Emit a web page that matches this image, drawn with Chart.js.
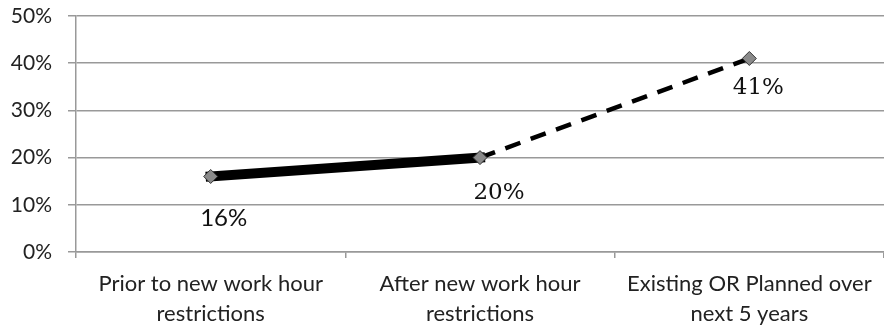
<!DOCTYPE html>
<html>
<head>
<meta charset="utf-8">
<script src="https://cdn.jsdelivr.net/npm/chart.js@4"></script>
<style>
  html, body { margin: 0; padding: 0; background: #fff; overflow: hidden; }
  #wrap { width: 892px; height: 326px; }
</style>
</head>
<body>
<div id="wrap"><canvas id="c" width="892" height="326"></canvas></div>
<script>
// Share of programs, by period
const categories = [
  ["Prior to new work hour", "restrictions"],
  ["After new work hour", "restrictions"],
  ["Existing OR Planned over", "next 5 years"]
];
const observed = [16, 20, null];   // solid segment
const projected = [null, 20, 41];  // dashed segment
const pointLabels = ["16%", "20%", "41%"];
const yTicks = [0, 10, 20, 30, 40, 50];

// Value labels placed under / beside each point
const labelPlugin = {
  id: "valueLabels",
  afterDatasetsDraw(chart) {
    const { ctx, scales } = chart;
    const offsets = [[13, 42], [19, 35], [9, 30]];
    const fonts = ["24px Lato", "23px 'DejaVu Serif', serif", "23px 'DejaVu Serif', serif"];
    ctx.save();
    ctx.fillStyle = "#111";
    ctx.textAlign = "center";
    ctx.textBaseline = "middle";
    const values = [observed[0], observed[1], projected[2]];
    values.forEach((v, i) => {
      const x = scales.x.getPixelForValue(i) + offsets[i][0];
      const y = scales.y.getPixelForValue(v) + offsets[i][1];
      ctx.font = fonts[i];
      ctx.fillText(pointLabels[i], x, y);
    });
    ctx.restore();
  }
};

new Chart(document.getElementById("c"), {
  type: "line",
  data: {
    labels: categories,
    datasets: [
      {
        data: observed,
        borderColor: "#000",
        borderWidth: 10,
        borderCapStyle: "square",
        pointStyle: "rectRot",
        pointRadius: [7, 0, 0],
        pointBackgroundColor: "#8a8a8a",
        pointBorderColor: "#333",
        pointBorderWidth: 1,
        order: 2
      },
      {
        data: projected,
        borderColor: "#000",
        borderWidth: 4.5,
        borderDash: [16, 11],
        pointStyle: "rectRot",
        pointRadius: [0, 7, 7],
        pointBackgroundColor: "#8a8a8a",
        pointBorderColor: "#333",
        pointBorderWidth: 1,
        order: 1
      }
    ]
  },
  options: {
    responsive: false,
    animation: false,
    events: [],
    layout: { padding: { top: 16, right: 0, left: 0, bottom: 0 } },
    plugins: { legend: { display: false }, tooltip: { enabled: false } },
    scales: {
      x: {
        offset: true,
        afterFit(axis) { axis.height = 74; axis.paddingLeft = 0; axis.paddingRight = 0; },
        grid: { offset: true, drawOnChartArea: false, tickLength: 6, color: "#999", lineWidth: 1.5 },
        border: { color: "#999", width: 1.5 },
        ticks: { color: "#222", font: { family: "Lato", size: 22, lineHeight: 1.36 }, padding: 11, maxRotation: 0 }
      },
      y: {
        min: 0, max: 50,
        afterBuildTicks(axis) { axis.ticks = yTicks.map(v => ({ value: v })); },
        afterFit(axis) { axis.width = 76; axis.paddingTop = 0; axis.paddingBottom = 0; },
        grid: { color: "#999", lineWidth: 1.5, tickLength: 8 },
        border: { color: "#999", width: 1.5 },
        ticks: { color: "#222", font: { family: "Lato", size: 21 }, padding: 16, callback: v => v + "%" }
      }
    }
  },
  plugins: [labelPlugin]
});
</script>
</body>
</html>
